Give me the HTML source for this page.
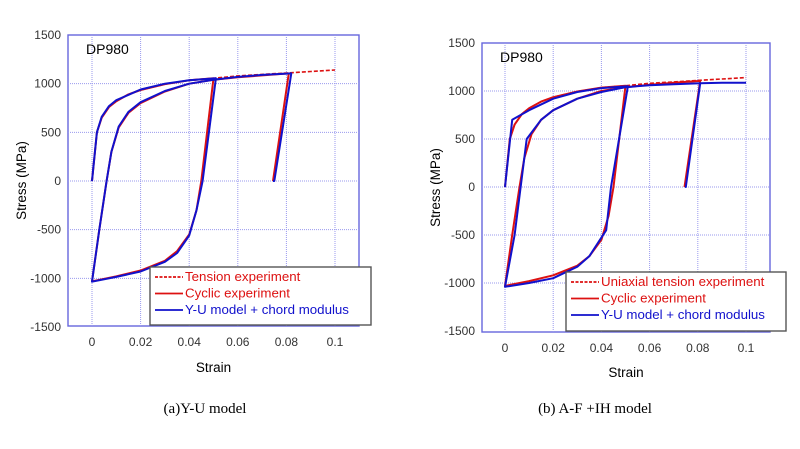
<!DOCTYPE html>
<html><head><meta charset="utf-8"><style>
body{margin:0;background:#fff;width:800px;height:444px;overflow:hidden}
svg{font-family:"Liberation Sans",sans-serif}
</style></head><body>
<svg id="s" width="800" height="444" xmlns="http://www.w3.org/2000/svg"></svg>
<script>
const S=document.getElementById('s');let h='';
function chart(o){
 const X=x=>o.x0+x*(o.x1-o.x0)/0.1, Y=y=>o.y0-y*(o.y0-o.ym)/1500;
 const P=pts=>'M'+pts.map(p=>X(p[0]).toFixed(1)+','+Y(p[1]).toFixed(1)).join('L');
 h+=`<rect x="${o.L}" y="${o.T}" width="${o.R-o.L}" height="${o.B-o.T}" fill="#fff" stroke="#6666dd" stroke-width="1.4"/>`;
 for(let i=0;i<=5;i++){const x=X(i*0.02);h+=`<line x1="${x}" y1="${o.T}" x2="${x}" y2="${o.B}" stroke="#9999ee" stroke-dasharray="1,1"/>`;
  h+=`<text x="${x}" y="${o.B+20}" font-size="12" text-anchor="middle" fill="#333">${['0','0.02','0.04','0.06','0.08','0.1'][i]}</text>`;}
 for(let v=-1500;v<=1500;v+=500){const y=Y(v);if(v>-1500&&v<1500)h+=`<line x1="${o.L}" y1="${y}" x2="${o.R}" y2="${y}" stroke="#9999ee" stroke-dasharray="1,1"/>`;
  h+=`<text x="${o.L-7}" y="${y+4}" font-size="12" text-anchor="end" fill="#333">${v}</text>`;}
 h+=`<text x="${o.L+18}" y="${o.T+19}" font-size="14">DP980</text>`;
 h+=`<text x="${(o.L+o.R)/2}" y="${o.sy}" font-size="13.5" text-anchor="middle">Strain</text>`;
 h+=`<text transform="translate(${o.L-42},${(o.T+o.B)/2}) rotate(-90)" font-size="13.5" text-anchor="middle">Stress (MPa)</text>`;
 const load=[[0,0],[0.002,500],[0.004,650],[0.007,760],[0.01,820],[0.015,890],[0.02,935],[0.03,995],[0.04,1035],[0.05,1055]];
 const tens=load.concat([[0.06,1080],[0.07,1095],[0.08,1110],[0.09,1125],[0.1,1140]]);
 const cyc=load.concat([[0.045,0],[0.043,-300],[0.04,-550],[0.035,-720],[0.03,-820],[0.02,-920],[0.01,-980],[0,-1030],[0.003,-500],[0.006,0],[0.008,300],[0.011,550],[0.015,700],[0.02,800],[0.03,920],[0.04,1000],[0.05,1040],[0.06,1065],[0.07,1085],[0.081,1105],[0.0745,0]]);
 h+=`<path d="${P(tens)}" fill="none" stroke="#dd1111" stroke-width="1.6" stroke-dasharray="4,2"/>`;
 h+=`<path d="${P(cyc)}" fill="none" stroke="#dd1111" stroke-width="2" stroke-linejoin="round"/>`;
 h+=`<path d="${P(o.blue)}" fill="none" stroke="#1111cc" stroke-width="2" stroke-linejoin="round"/>`;
 const l=o.leg;h+=`<rect x="${l[0]}" y="${l[1]}" width="${l[2]}" height="${l[3]}" fill="#fff" stroke="#555" stroke-width="1.4"/>`;
 const n=o.names;for(let i=0;i<3;i++){const y=l[1]+14+i*16.5;
  h+=`<line x1="${l[0]+5}" y1="${y-4}" x2="${l[0]+33}" y2="${y-4}" stroke="${i<2?'#dd1111':'#1111cc'}" stroke-width="1.8" ${i==0?'stroke-dasharray="3,1.5"':''}/>`;
  h+=`<text x="${l[0]+35}" y="${y}" font-size="13.3" fill="${i<2?'#dd1111':'#1111cc'}">${n[i]}</text>`;}
 h+=`<text x="${o.cx}" y="413" font-family="Liberation Serif,serif" font-size="15" text-anchor="middle">${o.cap}</text>`;
}
const blueA=[[0,0],[0.002,500],[0.004,660],[0.007,770],[0.01,830],[0.02,940],[0.03,1000],[0.04,1035],[0.051,1055],[0.0455,0],[0.043,-300],[0.04,-560],[0.035,-740],[0.03,-830],[0.02,-930],[0.01,-985],[0,-1035],[0.003,-500],[0.006,0],[0.008,300],[0.011,560],[0.015,710],[0.02,810],[0.03,925],[0.04,1000],[0.05,1040],[0.06,1070],[0.07,1090],[0.082,1105],[0.075,0],[0.0745,0]];
const blueB=[[0,0],[0.003,700],[0.01,800],[0.02,920],[0.03,990],[0.04,1030],[0.051,1050],[0.044,0],[0.042,-450],[0.035,-720],[0.03,-830],[0.02,-950],[0.01,-1000],[0,-1040],[0.004,-500],[0.009,500],[0.015,700],[0.02,800],[0.03,920],[0.04,990],[0.05,1040],[0.06,1060],[0.07,1070],[0.081,1080],[0.075,0],[0.081,1080],[0.09,1085],[0.1,1085]];
chart({L:68,R:359,T:35,B:326,x0:92,x1:335,y0:181,ym:35,sy:372,blue:blueA,leg:[150,267,221,58],names:['Tension experiment','Cyclic experiment','Y-U model + chord modulus'],cx:205,cap:'(a)Y-U model'});
chart({L:482,R:770,T:43,B:332,x0:505,x1:746,y0:187,ym:43,sy:377,blue:blueB,leg:[566,272,220,59],names:['Uniaxial tension experiment','Cyclic experiment','Y-U model + chord modulus'],cx:595,cap:'(b) A-F +IH model'});
S.innerHTML=h;
</script>
</body></html>
